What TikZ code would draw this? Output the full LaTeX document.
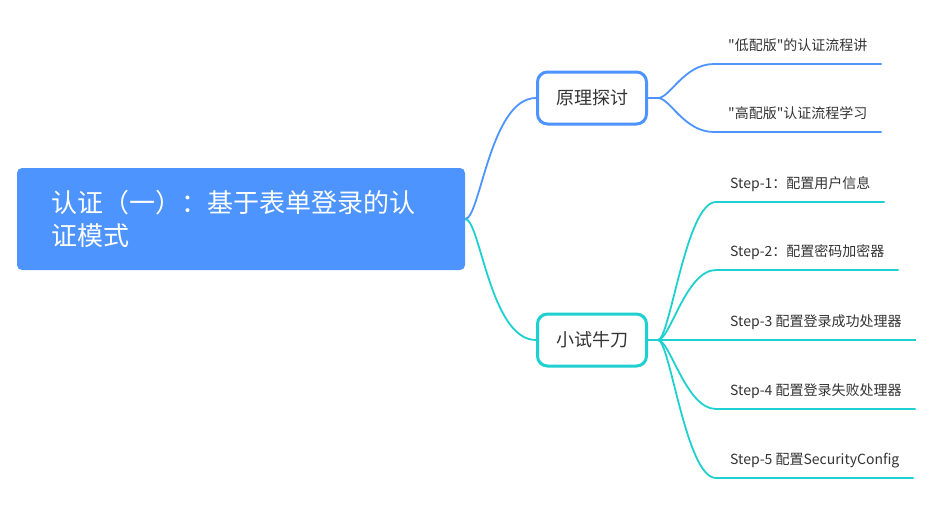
\documentclass[tikz,border=0pt]{standalone}
\usepackage{fontspec}
\setmainfont{Noto Sans CJK SC}[Ligatures=TeXOff]
\usepackage{xcolor}
\definecolor{MapBlue}{HTML}{4D94FF}
\definecolor{MapCyan}{HTML}{1ED0D0}
\definecolor{MapText}{HTML}{333333}
\usepackage{tikz}
\usetikzlibrary{calc}

\begin{document}
\begin{tikzpicture}[x=1pt,y=-1pt,
  root/.style={rounded corners=5pt,fill=MapBlue,text=white,text width=380pt,minimum height=102pt,align=left,inner xsep=34pt,font=\fontsize{26}{33}\selectfont},
  topic/.style={rounded corners=10pt,draw=#1,line width=3pt,fill=white,minimum width=109pt,minimum height=52pt,text=MapText,font=\fontsize{18}{22}\selectfont},
  leaf/.style={anchor=south west,inner xsep=14pt,inner ysep=10pt,text height=10pt,text depth=3pt,text=MapText,font=\fontsize{14}{16}\selectfont},
  branch/.style={draw=#1,line width=1.8pt}
]
\useasboundingbox (0,0) rectangle (945,512);
\node[root] (rz) at (241,219) {认证（一）：基于表单登录的认\\证模式};
\node[topic=MapBlue] (yl) at (592,98) {原理探讨};
\node[topic=MapCyan] (sd) at (592,340) {小试牛刀};
\draw[branch=MapBlue] (rz.east) .. controls +(15,0) and +(-46,0) .. (yl.west);
\draw[branch=MapCyan] (rz.east) .. controls +(15,0) and +(-46,0) .. (sd.west);
% 原理探讨
\coordinate (ylb) at ($(yl.east)+(10,0)$);
\draw[branch=MapBlue] (yl.east) -- (ylb);
\node[leaf] (d1) at (714,64) {"低配版"的认证流程讲};
\node[leaf] (d2) at (714,132) {"高配版"认证流程学习};
\draw[branch=MapBlue] (ylb) .. controls +(12,0) and +(-30,0) .. (d1.south west) -- (d1.south east);
\draw[branch=MapBlue] (ylb) .. controls +(12,0) and +(-30,0) .. (d2.south west) -- (d2.south east);
% 小试牛刀
\coordinate (sdb) at ($(sd.east)+(10,0)$);
\draw[branch=MapCyan] (sd.east) -- (sdb);
\node[leaf] (s1) at (716,202) {Step-1：配置用户信息};
\node[leaf] (s2) at (716,270) {Step-2：配置密码加密器};
\node[leaf] (s3) at (716,340) {Step-3 配置登录成功处理器};
\node[leaf] (s4) at (716,409) {Step-4 配置登录失败处理器};
\node[leaf] (s5) at (716,478) {Step-5 配置SecurityConfig};
\draw[branch=MapCyan] (sdb) .. controls +(12,0) and +(-30,0) .. (s1.south west) -- (s1.south east);
\draw[branch=MapCyan] (sdb) .. controls +(12,0) and +(-30,0) .. (s2.south west) -- (s2.south east);
\draw[branch=MapCyan] (sdb) -- (s3.south west) -- (s3.south east);
\draw[branch=MapCyan] (sdb) .. controls +(12,0) and +(-30,0) .. (s4.south west) -- (s4.south east);
\draw[branch=MapCyan] (sdb) .. controls +(12,0) and +(-30,0) .. (s5.south west) -- (s5.south east);
\end{tikzpicture}
\end{document}
